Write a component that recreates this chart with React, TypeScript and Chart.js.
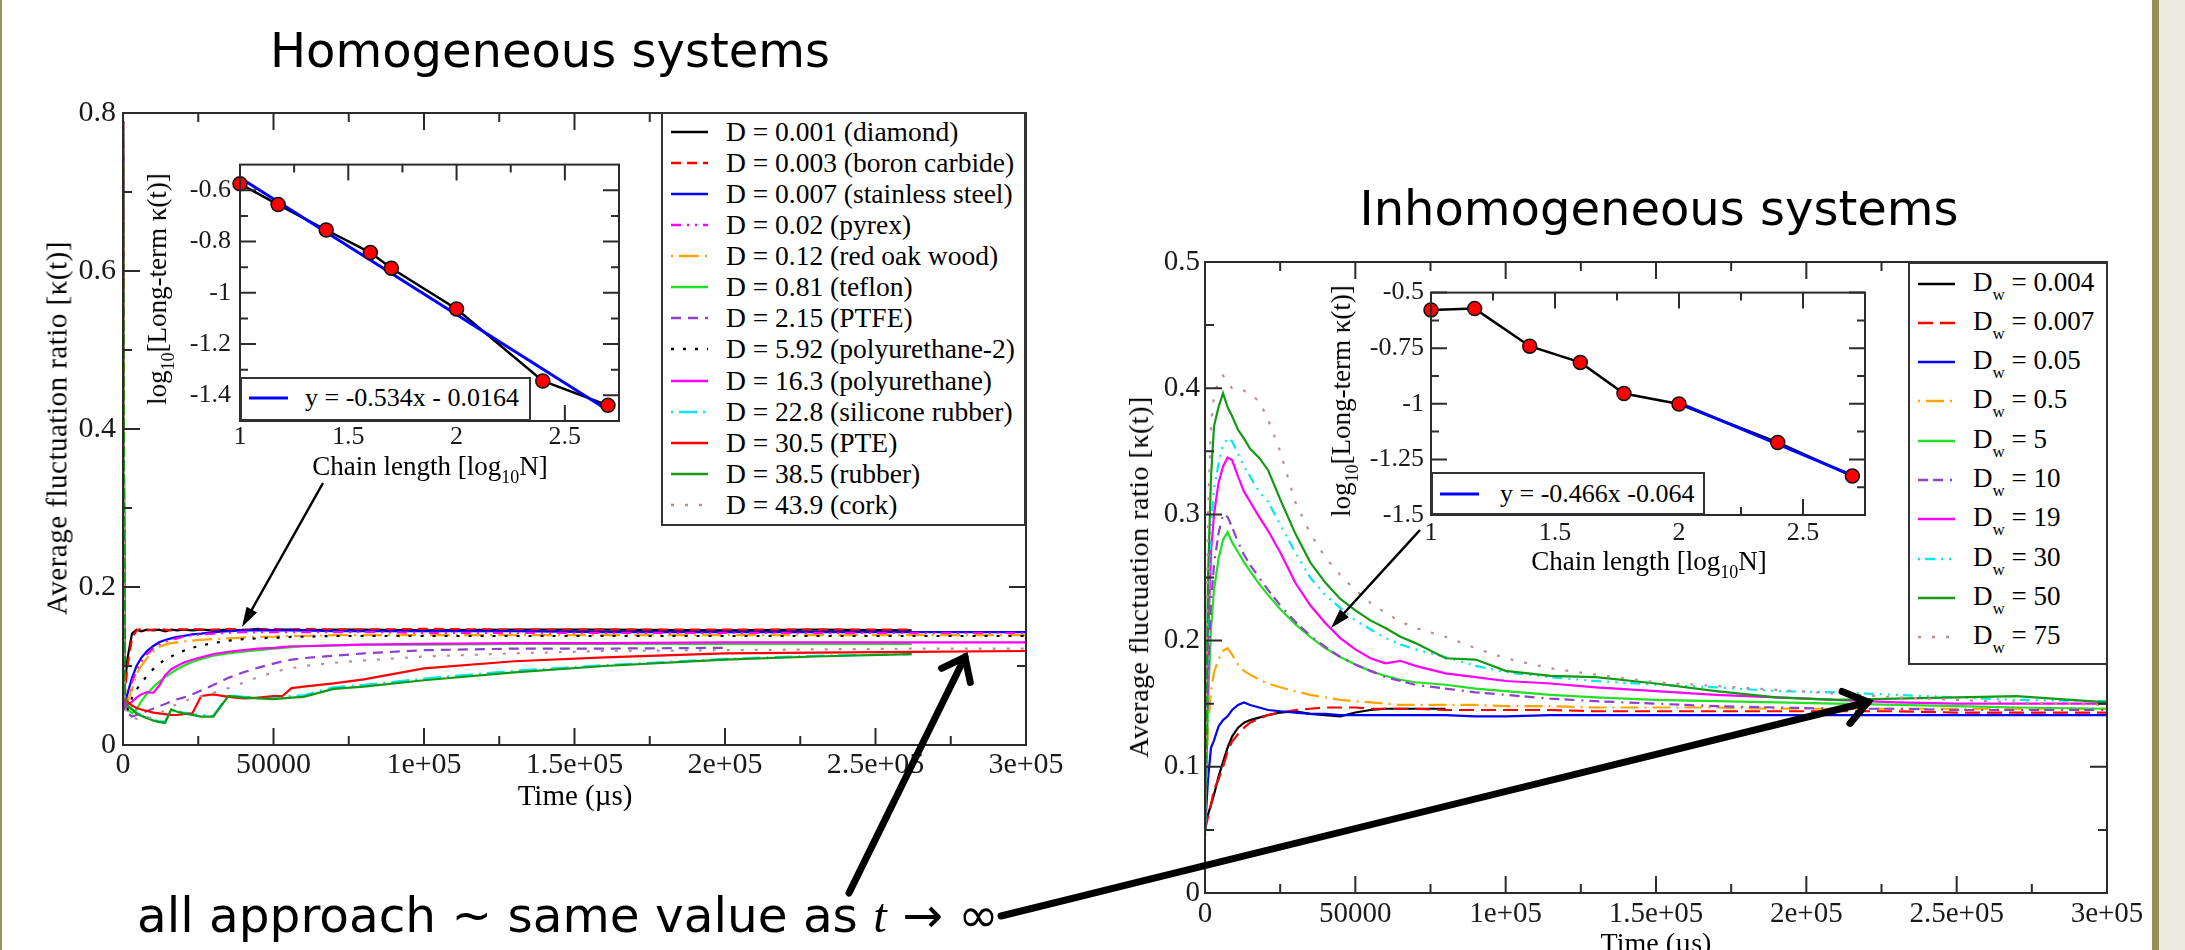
import React, { useEffect, useRef } from "react";
import { Chart, registerables } from "chart.js";

Chart.register(...registerables);

/* ================= DATA: homogeneous systems ================= */
const T_HOMO = [0, 500, 1500, 3000, 4500, 6000, 8000, 10000, 12000, 14000, 16000, 18000, 20000, 23000, 26000, 30000, 35000, 40000, 45000, 50000, 53000, 56000, 60000, 70000, 80000, 100000, 130000, 160000, 200000, 230000, 262000, 300000];
const H_DIAMOND = [0.79, 0.07, 0.11, 0.141, 0.146, 0.144, 0.146, 0.145, 0.146, 0.144, 0.146, 0.145, 0.146, 0.145, 0.146, 0.145, 0.146, 0.145, 0.147, 0.145, 0.146, 0.146, 0.145, 0.146, 0.146, 0.145, 0.146, 0.146, 0.145, 0.146, 0.145, null];
const H_BORON = [0.79, 0.06, 0.1, 0.135, 0.145, 0.147, 0.145, 0.146, 0.147, 0.146, 0.145, 0.147, 0.146, 0.147, 0.146, 0.146, 0.147, 0.146, 0.146, 0.147, 0.146, 0.146, 0.147, 0.146, 0.146, 0.147, 0.146, 0.146, 0.146, 0.146, 0.146, null];
const H_STEEL = [0.79, 0.05, 0.065, 0.085, 0.1, 0.11, 0.119, 0.125, 0.13, 0.133, 0.135, 0.137, 0.138, 0.14, 0.141, 0.143, 0.144, 0.145, 0.145, 0.145, 0.145, 0.145, 0.145, 0.144, 0.144, 0.144, 0.144, 0.143, 0.143, 0.143, 0.143, 0.143];
const H_PYREX = [0.79, 0.05, 0.06, 0.08, 0.095, 0.105, 0.115, 0.122, 0.127, 0.131, 0.133, 0.135, 0.137, 0.139, 0.14, 0.141, 0.142, 0.143, 0.143, 0.143, 0.143, 0.143, 0.143, 0.143, 0.143, 0.142, 0.142, 0.142, 0.142, 0.142, 0.142, 0.142];
const H_OAK = [0.79, 0.05, 0.055, 0.07, 0.09, 0.1, 0.11, 0.118, 0.124, 0.127, 0.129, 0.13, 0.131, 0.132, 0.133, 0.134, 0.135, 0.136, 0.137, 0.137, 0.138, 0.138, 0.138, 0.139, 0.139, 0.139, 0.139, 0.139, 0.139, 0.139, 0.139, 0.139];
const H_TEFLON = [0.79, 0.06, 0.045, 0.04, 0.045, 0.055, 0.065, 0.073, 0.08, 0.086, 0.091, 0.096, 0.1, 0.105, 0.109, 0.113, 0.116, 0.118, 0.12, 0.122, 0.123, 0.124, 0.125, 0.126, 0.127, 0.127, 0.128, 0.128, 0.128, 0.128, 0.128, null];
const H_PTFE = [0.79, 0.05, 0.04, 0.036, 0.038, 0.04, 0.043, 0.046, 0.049, 0.052, 0.055, 0.058, 0.06, 0.064, 0.069, 0.076, 0.085, 0.092, 0.098, 0.103, 0.106, 0.108, 0.11, 0.113, 0.116, 0.12, 0.122, 0.122, 0.123, null, null, null];
const H_PU2 = [0.79, 0.05, 0.045, 0.06, 0.07, 0.078, 0.088, 0.096, 0.103, 0.108, 0.112, 0.116, 0.119, 0.123, 0.126, 0.129, 0.132, 0.134, 0.135, 0.136, 0.136, 0.137, 0.137, 0.138, 0.138, 0.138, 0.138, 0.138, 0.138, 0.138, 0.138, 0.138];
const H_PU = [0.79, 0.05, 0.05, 0.055, 0.06, 0.064, 0.067, 0.066, 0.075, 0.088, 0.096, 0.1, 0.104, 0.108, 0.111, 0.115, 0.118, 0.12, 0.122, 0.123, 0.124, 0.125, 0.125, 0.126, 0.127, 0.128, 0.129, 0.129, 0.13, 0.13, 0.13, 0.13];
const H_SILICONE = [0.79, 0.06, 0.05, 0.045, 0.041, 0.038, 0.035, 0.032, 0.03, 0.03, 0.044, 0.043, 0.041, 0.039, 0.038, 0.037, 0.063, 0.061, 0.06, 0.06, 0.061, 0.062, 0.063, 0.073, 0.076, 0.084, 0.094, 0.101, 0.109, 0.113, 0.115, null];
const H_PTE = [0.79, 0.06, 0.055, 0.05, 0.047, 0.045, 0.043, 0.041, 0.04, 0.039, 0.038, 0.038, 0.039, 0.04, 0.062, 0.064, 0.061, 0.059, 0.06, 0.062, 0.062, 0.072, 0.074, 0.078, 0.083, 0.097, 0.106, 0.111, 0.116, 0.117, 0.118, 0.119];
const H_RUBBER = [0.8, 0.06, 0.05, 0.045, 0.04, 0.037, 0.034, 0.031, 0.029, 0.028, 0.045, 0.042, 0.04, 0.038, 0.036, 0.036, 0.062, 0.06, 0.059, 0.058, 0.059, 0.06, 0.061, 0.071, 0.074, 0.082, 0.092, 0.1, 0.108, 0.112, 0.115, null];
const H_CORK = [0.79, 0.05, 0.04, 0.035, 0.033, 0.032, 0.033, 0.036, 0.04, 0.044, 0.048, 0.052, 0.055, 0.059, 0.062, 0.066, 0.072, 0.079, 0.086, 0.092, 0.095, 0.097, 0.1, 0.104, 0.107, 0.112, 0.116, 0.119, 0.12, 0.121, 0.122, 0.122];
const HOMO_LABELS = ["D = 0.001 (diamond)", "D = 0.003 (boron carbide)", "D = 0.007 (stainless steel)", "D = 0.02 (pyrex)", "D = 0.12 (red oak wood)", "D = 0.81 (teflon)", "D = 2.15 (PTFE)", "D = 5.92 (polyurethane-2)", "D = 16.3 (polyurethane)", "D = 22.8 (silicone rubber)", "D = 30.5 (PTE)", "D = 38.5 (rubber)", "D = 43.9 (cork)"];

/* ================= DATA: inhomogeneous systems ================= */
const T_INHOMO = [0, 1000, 2000, 3000, 4500, 6000, 7500, 9000, 11000, 13000, 15000, 18000, 21000, 25000, 30000, 35000, 40000, 45000, 50000, 55000, 60000, 65000, 70000, 80000, 90000, 100000, 115000, 130000, 150000, 170000, 190000, 210000, 230000, 250000, 270000, 300000];
const IN_004 = [0.055, 0.062, 0.07, 0.078, 0.092, 0.104, 0.115, 0.124, 0.131, 0.135, 0.137, 0.139, 0.141, 0.143, 0.144, 0.142, 0.141, 0.14, 0.143, 0.145, 0.146, 0.146, 0.146, 0.146, null, null, null, null, null, null, null, null, null, null, null, null];
const IN_007 = [0.05, 0.06, 0.07, 0.082, 0.09, 0.1, 0.112, 0.12, 0.126, 0.131, 0.135, 0.138, 0.141, 0.143, 0.145, 0.146, 0.147, 0.147, 0.147, 0.146, 0.146, 0.146, 0.146, 0.145, 0.145, 0.145, 0.145, 0.144, 0.144, 0.144, 0.144, 0.144, 0.144, 0.143, 0.143, 0.143];
const IN_005 = [0.05, 0.09, 0.115, 0.121, 0.132, 0.137, 0.14, 0.145, 0.149, 0.151, 0.149, 0.147, 0.145, 0.144, 0.143, 0.142, 0.142, 0.141, 0.141, 0.141, 0.141, 0.141, 0.141, 0.141, 0.14, 0.14, 0.141, 0.141, 0.141, 0.141, 0.141, 0.141, 0.141, 0.141, 0.141, 0.141];
const IN_05 = [0.06, 0.13, 0.16, 0.175, 0.185, 0.192, 0.194, 0.189, 0.181, 0.176, 0.173, 0.169, 0.166, 0.163, 0.16, 0.157, 0.155, 0.153, 0.152, 0.151, 0.15, 0.149, 0.149, 0.149, 0.149, 0.148, 0.148, 0.147, 0.147, 0.147, 0.146, 0.146, 0.146, 0.146, 0.146, 0.146];
const IN_5 = [0.05, 0.15, 0.21, 0.24, 0.265, 0.28, 0.286, 0.278, 0.27, 0.262, 0.255, 0.245, 0.236, 0.225, 0.213, 0.203, 0.194, 0.187, 0.181, 0.176, 0.172, 0.169, 0.167, 0.165, 0.162, 0.16, 0.157, 0.155, 0.153, 0.152, 0.151, 0.15, 0.149, 0.148, 0.147, 0.146];
const IN_10 = [0.05, 0.17, 0.23, 0.26, 0.285, 0.3, 0.298, 0.29, 0.278, 0.268, 0.26, 0.25, 0.24, 0.228, 0.215, 0.204, 0.195, 0.187, 0.181, 0.176, 0.171, 0.168, 0.165, 0.162, 0.159, 0.157, 0.154, 0.152, 0.15, 0.148, 0.147, 0.146, 0.146, 0.145, 0.145, 0.145];
const IN_19 = [0.05, 0.2, 0.27, 0.3, 0.325, 0.338, 0.345, 0.343, 0.33, 0.318, 0.31, 0.298, 0.287, 0.27, 0.246, 0.228, 0.214, 0.202, 0.193, 0.186, 0.182, 0.184, 0.18, 0.174, 0.171, 0.168, 0.166, 0.163, 0.16, 0.157, 0.155, 0.153, 0.151, 0.15, 0.15, 0.15];
const IN_30 = [0.05, 0.22, 0.29, 0.32, 0.34, 0.355, 0.36, 0.358, 0.348, 0.338, 0.33, 0.318, 0.31, 0.292, 0.27, 0.25, 0.236, 0.226, 0.216, 0.209, 0.202, 0.197, 0.193, 0.187, 0.18, 0.175, 0.171, 0.168, 0.165, 0.163, 0.16, 0.159, 0.157, 0.155, 0.153, 0.152];
const IN_50 = [0.045, 0.25, 0.33, 0.37, 0.385, 0.396, 0.385, 0.378, 0.367, 0.36, 0.352, 0.345, 0.335, 0.312, 0.285, 0.262, 0.246, 0.233, 0.224, 0.216, 0.21, 0.203, 0.198, 0.186, 0.185, 0.176, 0.172, 0.171, 0.166, 0.16, 0.155, 0.153, 0.154, 0.155, 0.156, 0.151];
const IN_75 = [0.045, 0.3, 0.37, 0.395, 0.405, 0.41, 0.405, 0.4, 0.4, 0.398, 0.395, 0.39, 0.375, 0.35, 0.31, 0.285, 0.266, 0.252, 0.24, 0.23, 0.222, 0.215, 0.21, 0.203, 0.194, 0.186, 0.178, 0.173, 0.167, 0.164, 0.161, 0.158, 0.155, 0.153, 0.151, 0.149];
const INHOMO_DW = ["0.004", "0.007", "0.05", "0.5", "5", "10", "19", "30", "50", "75"];

/* ================= DATA: insets ================= */
const INSET_H_X = [1, 1.176, 1.398, 1.602, 1.699, 2, 2.398, 2.699];
const INSET_H_Y = [-0.575, -0.656, -0.755, -0.843, -0.904, -1.063, -1.344, -1.439];
const FIT_H_X = [1, 2.699];
const FIT_H_Y = [-0.551, -1.458];
const INSET_I_X = [1, 1.176, 1.398, 1.602, 1.778, 2, 2.398, 2.699];
const INSET_I_Y = [-0.578, -0.572, -0.741, -0.814, -0.954, -1.001, -1.174, -1.325];
const FIT_I_X = [2, 2.699];
const FIT_I_Y = [-0.996, -1.322];

/* ================= TICKS ================= */
const T_MAJOR = [0, 50000, 100000, 150000, 200000, 250000, 300000];
const T_MINOR = [25000, 75000, 125000, 175000, 225000, 275000];
const T_LABELS = ["0", "50000", "1e+05", "1.5e+05", "2e+05", "2.5e+05", "3e+05"];
const YH_MAJOR = [0, 0.2, 0.4, 0.6, 0.8];
const YH_MINOR = [0.1, 0.3, 0.5, 0.7];
const YH_LABELS = ["0", "0.2", "0.4", "0.6", "0.8"];
const YI_MAJOR = [0, 0.1, 0.2, 0.3, 0.4, 0.5];
const YI_MINOR = [0.05, 0.15, 0.25, 0.35, 0.45];
const YI_LABELS = ["0", "0.1", "0.2", "0.3", "0.4", "0.5"];
const N_MAJOR = [1, 1.5, 2, 2.5];
const N_MINOR = [1.25, 1.75, 2.25];
const N_LABELS = ["1", "1.5", "2", "2.5"];
const KH_MAJOR = [-1.4, -1.2, -1, -0.8, -0.6];
const KH_MINOR = [-1.3, -1.1, -0.9, -0.7];
const KH_LABELS = ["-1.4", "-1.2", "-1", "-0.8", "-0.6"];
const KI_MAJOR = [-1.5, -1.25, -1, -0.75, -0.5];
const KI_MINOR = [-1.375, -1.125, -0.875, -0.625];
const KI_LABELS = ["-1.5", "-1.25", "-1", "-0.75", "-0.5"];

/* ================= STYLES ================= */
const SERIF = "'Liberation Serif', 'Times New Roman', serif";
const SANS = "'DejaVu Sans', Verdana, sans-serif";
const C_BLACK = "#000000", C_RED = "#ff0000", C_BLUE = "#0000ff", C_MAG = "#ff00ff", C_ORANGE = "#ffa500";
const C_GREEN = "#22e022", C_VIOLET = "#9040d0", C_CYAN = "#00e8f0", C_DKGREEN = "#139a13", C_BROWN = "#bc8f8f";
const HOMO_COLORS = [C_BLACK, C_RED, C_BLUE, C_MAG, C_ORANGE, C_GREEN, C_VIOLET, C_BLACK, C_MAG, C_CYAN, C_RED, C_DKGREEN, C_BROWN];
const HOMO_DASHES = [[], [10, 6], [], [10, 6, 2, 6, 2, 6], [2, 6, 20, 6], [], [10, 7], [3, 9], [], [2, 6, 18, 6], [], [], [3, 11]];
const INHOMO_COLORS = [C_BLACK, C_RED, C_BLUE, C_ORANGE, C_GREEN, C_VIOLET, C_MAG, C_CYAN, C_DKGREEN, C_BROWN];
const INHOMO_DASHES = [[], [15, 7], [], [2, 6, 18, 6], [], [10, 5, 10, 7, 2, 6], [], [2, 5, 10, 6, 2, 6, 2, 6], [], [3, 11]];

function lineDatasets(t: number[], series: (number | null)[][], colors: string[], dashes: number[][], width: number) {
  const n = series.length;
  return series.map((vals, i) => ({
    data: vals
      .map((v, k) => (v == null ? null : { x: t[k], y: v }))
      .filter((p) => p !== null),
    borderColor: colors[i],
    borderDash: dashes[i],
    borderWidth: width,
    pointRadius: 0,
    pointHoverRadius: 0,
    fill: false,
    tension: 0,
    order: n - i,
  }));
}

function insetDatasets(px: number[], py: number[], fx: number[], fy: number[]) {
  return [
    { data: px.map((x, i) => ({ x, y: py[i] })), borderColor: "#000", borderWidth: 2.5, pointRadius: 0, tension: 0, fill: false, order: 3 },
    { data: fx.map((x, i) => ({ x, y: fy[i] })), borderColor: "#0000ff", borderWidth: 3, pointRadius: 0, tension: 0, fill: false, order: 2 },
    {
      data: px.map((x, i) => ({ x, y: py[i] })), showLine: false, pointRadius: 7, pointBackgroundColor: "#ff0000",
      pointBorderColor: "#111", pointBorderWidth: 1.5, order: 1, clip: false,
    },
  ];
}

function framePlugin(o: any) {
  return {
    id: "frameTicks",
    beforeDatasetsDraw(chart: any) {
      const a = chart.chartArea;
      const ctx = chart.ctx;
      ctx.save();
      ctx.fillStyle = "#ffffff";
      ctx.fillRect(a.left, a.top, a.right - a.left, a.bottom - a.top);
      ctx.restore();
    },
    afterDatasetsDraw(chart: any) {
      const { ctx, chartArea: a, scales } = chart;
      const xs = scales.x, ys = scales.y;
      ctx.save();
      ctx.strokeStyle = "#2b2b2b";
      ctx.lineWidth = 2;
      ctx.beginPath();
      const tx = (vals: number[], len: number) =>
        vals.forEach((v) => {
          const p = xs.getPixelForValue(v);
          ctx.moveTo(p, a.bottom); ctx.lineTo(p, a.bottom - len);
          ctx.moveTo(p, a.top); ctx.lineTo(p, a.top + len);
        });
      const ty = (vals: number[], len: number) =>
        vals.forEach((v) => {
          const p = ys.getPixelForValue(v);
          ctx.moveTo(a.left, p); ctx.lineTo(a.left + len, p);
          ctx.moveTo(a.right, p); ctx.lineTo(a.right - len, p);
        });
      tx(o.xMajor, o.major); tx(o.xMinor, o.minor);
      ty(o.yMajor, o.major); ty(o.yMinor, o.minor);
      ctx.stroke();
      ctx.strokeRect(a.left, a.top, a.right - a.left, a.bottom - a.top);
      ctx.restore();
    },
  };
}

function axis(min: number, max: number, ticks: number[], labels: string[], size: number, pad: number, fit: (s: any) => void) {
  return {
    type: "linear",
    min,
    max,
    grid: { display: false, drawTicks: false },
    border: { display: false },
    afterBuildTicks: (s: any) => { s.ticks = ticks.map((v) => ({ value: v })); },
    afterFit: fit,
    ticks: {
      autoSkip: false, maxRotation: 0, minRotation: 0, padding: pad, color: "#1a1a1a",
      font: { family: SERIF, size },
      callback: (_v: any, i: number) => labels[i],
    },
  };
}

function buildChart(canvas: HTMLCanvasElement, datasets: any[], o: any) {
  return new Chart(canvas as any, {
    type: "line",
    data: { datasets },
    options: {
      responsive: false,
      maintainAspectRatio: false,
      animation: false,
      devicePixelRatio: 1,
      events: [],
      layout: { padding: o.padding },
      plugins: { legend: { display: false }, tooltip: { enabled: false }, title: { display: false } },
      scales: {
        x: axis(o.xMin, o.xMax, o.xMajor, o.xLabels, o.font, o.xPad, (s: any) => { s.height = o.xH; }),
        y: axis(o.yMin, o.yMax, o.yMajor, o.yLabels, o.font, o.yPad, (s: any) => { s.width = o.yW; }),
      },
    } as any,
    plugins: [framePlugin(o)],
  } as any);
}

/* ================= small UI helpers ================= */
function Txt({ x, y, size, family = SERIF, align = "center", rotate = false, style = {}, children }: any) {
  const tx = align === "center" ? "-50%" : align === "left" ? "0" : "-100%";
  return (
    <div
      style={{
        position: "absolute", left: x, top: y, fontSize: size, fontFamily: family, lineHeight: `${size}px`,
        whiteSpace: "nowrap", color: "#000", transform: `translate(${tx}, -50%)${rotate ? " rotate(-90deg)" : ""}`,
        ...style,
      }}
    >
      {children}
    </div>
  );
}

function Sample({ color, dash, w = 37, lw = 2.5 }: any) {
  return (
    <svg width={w} height={30} style={{ display: "block" }}>
      <line x1={0} y1={15} x2={w} y2={15} stroke={color} strokeWidth={lw} strokeDasharray={dash.length ? dash.join(" ") : undefined} />
    </svg>
  );
}

const Sub = ({ children, size = 17, drop = 9 }: any) => (
  <span style={{ fontSize: size, position: "relative", top: drop }}>{children}</span>
);

function arrowHeadFilled(x1: number, y1: number, x2: number, y2: number, len: number, half: number) {
  const L = Math.hypot(x2 - x1, y2 - y1);
  const ux = (x2 - x1) / L, uy = (y2 - y1) / L;
  const bx = x2 - ux * len, by = y2 - uy * len;
  return `${x2},${y2} ${bx - uy * half},${by + ux * half} ${bx + uy * half},${by - ux * half}`;
}
function arrowHeadV(x1: number, y1: number, x2: number, y2: number, len: number, deg: number) {
  const L = Math.hypot(x2 - x1, y2 - y1);
  const bx = -(x2 - x1) / L, by = -(y2 - y1) / L;
  const r = (deg * Math.PI) / 180;
  const a1 = [bx * Math.cos(r) - by * Math.sin(r), bx * Math.sin(r) + by * Math.cos(r)];
  const a2 = [bx * Math.cos(-r) - by * Math.sin(-r), bx * Math.sin(-r) + by * Math.cos(-r)];
  return `${x2 + a1[0] * len},${y2 + a1[1] * len} ${x2},${y2} ${x2 + a2[0] * len},${y2 + a2[1] * len}`;
}

export default function App() {
  const cHomo = useRef<HTMLCanvasElement>(null);
  const cInhomo = useRef<HTMLCanvasElement>(null);
  const cInsetH = useRef<HTMLCanvasElement>(null);
  const cInsetI = useRef<HTMLCanvasElement>(null);

  useEffect(() => {
    const charts: Chart[] = [];
    const homoSeries = [H_DIAMOND, H_BORON, H_STEEL, H_PYREX, H_OAK, H_TEFLON, H_PTFE, H_PU2, H_PU, H_SILICONE, H_PTE, H_RUBBER, H_CORK];
    const inhomoSeries = [IN_004, IN_007, IN_005, IN_05, IN_5, IN_10, IN_19, IN_30, IN_50, IN_75];

    charts.push(
      buildChart(cHomo.current!, lineDatasets(T_HOMO, homoSeries, HOMO_COLORS, HOMO_DASHES, 2.2), {
        padding: { left: 0, right: 74, top: 113, bottom: 0 }, xH: 85, yW: 123,
        xMin: 0, xMax: 300000, yMin: 0, yMax: 0.8, xMajor: T_MAJOR, xMinor: T_MINOR, xLabels: T_LABELS,
        yMajor: YH_MAJOR, yMinor: YH_MINOR, yLabels: YH_LABELS, font: 30, xPad: 2, yPad: 7, major: 17, minor: 9,
      })
    );
    charts.push(
      buildChart(cInhomo.current!, lineDatasets(T_INHOMO, inhomoSeries, INHOMO_COLORS, INHOMO_DASHES, 2.2), {
        padding: { left: 0, right: 45, top: 32, bottom: 0 }, xH: 77, yW: 105,
        xMin: 0, xMax: 300000, yMin: 0, yMax: 0.5, xMajor: T_MAJOR, xMinor: T_MINOR, xLabels: T_LABELS,
        yMajor: YI_MAJOR, yMinor: YI_MINOR, yLabels: YI_LABELS, font: 29, xPad: 4, yPad: 5, major: 17, minor: 9,
      })
    );
    charts.push(
      buildChart(cInsetH.current!, insetDatasets(INSET_H_X, INSET_H_Y, FIT_H_X, FIT_H_Y), {
        padding: { left: 0, right: 21, top: 18, bottom: 0 }, xH: 39, yW: 110,
        xMin: 1, xMax: 2.75, yMin: -1.5, yMax: -0.5, xMajor: N_MAJOR, xMinor: N_MINOR, xLabels: N_LABELS,
        yMajor: KH_MAJOR, yMinor: KH_MINOR, yLabels: KH_LABELS, font: 26, xPad: 1, yPad: 9, major: 16, minor: 8,
      })
    );
    charts.push(
      buildChart(cInsetI.current!, insetDatasets(INSET_I_X, INSET_I_Y, FIT_I_X, FIT_I_Y), {
        padding: { left: 0, right: 25, top: 18, bottom: 0 }, xH: 45, yW: 71,
        xMin: 1, xMax: 2.75, yMin: -1.5, yMax: -0.5, xMajor: N_MAJOR, xMinor: N_MINOR, xLabels: N_LABELS,
        yMajor: KI_MAJOR, yMinor: KI_MINOR, yLabels: KI_LABELS, font: 26, xPad: 3, yPad: 7, major: 16, minor: 8,
      })
    );
    return () => charts.forEach((c) => c.destroy());
  }, []);

  const legBox = (l: number, t: number, w: number, h: number): React.CSSProperties => ({
    position: "absolute", left: l, top: t, width: w, height: h, boxSizing: "border-box",
    border: "2px solid #333", background: "#fff",
  });

  return (
    <div style={{ position: "fixed", left: 0, top: 0, width: 2185, height: 950, overflow: "hidden", background: "#fff" }}>
      {/* slide frame */}
      <div style={{ position: "absolute", left: 0, top: 0, width: 2, height: 950, background: "#9b9158" }} />
      <div style={{ position: "absolute", left: 2152, top: 0, width: 7, height: 950, background: "#988e56" }} />
      <div style={{ position: "absolute", left: 2159, top: 0, width: 26, height: 950, background: "#ecebe1" }} />

      {/* main charts */}
      <canvas ref={cHomo} width={1100} height={830} style={{ position: "absolute", left: 0, top: 0 }} />
      <canvas ref={cInhomo} width={1052} height={740} style={{ position: "absolute", left: 1100, top: 230 }} />

      {/* headings */}
      <Txt x={550} y={50} size={48} family={SANS}>Homogeneous systems</Txt>
      <Txt x={1659} y={208} size={48} family={SANS}>Inhomogeneous systems</Txt>

      {/* main axis titles */}
      <Txt x={57} y={428} size={29} rotate style={{ letterSpacing: 0.5 }}>Average fluctuation ratio [κ(t)]</Txt>
      <Txt x={575} y={795} size={29}>Time (µs)</Txt>
      <Txt x={1139} y={577} size={28} rotate style={{ letterSpacing: 0.5 }}>Average fluctuation ratio [κ(t)]</Txt>
      <Txt x={1656} y={943} size={28}>Time (µs)</Txt>

      {/* homogeneous legend */}
      <div style={legBox(661, 112, 365, 414)}>
        {HOMO_LABELS.map((lab, i) => (
          <div key={i} style={{ position: "absolute", left: 0, top: 131.7 + 31.1 * i - 112 - 2 - 15, height: 30, display: "flex", alignItems: "center" }}>
            <div style={{ marginLeft: 8 }}><Sample color={HOMO_COLORS[i]} dash={HOMO_DASHES[i]} /></div>
            <div style={{ marginLeft: 18, fontFamily: SERIF, fontSize: 27.5, lineHeight: "30px", whiteSpace: "nowrap" }}>{lab}</div>
          </div>
        ))}
      </div>

      {/* inhomogeneous legend */}
      <div style={legBox(1908, 262, 200, 403)}>
        {INHOMO_DW.map((v, i) => (
          <div key={i} style={{ position: "absolute", left: 0, top: 283.5 + 39.3 * i - 262 - 2 - 15, height: 30, display: "flex", alignItems: "center" }}>
            <div style={{ marginLeft: 8 }}><Sample color={INHOMO_COLORS[i]} dash={INHOMO_DASHES[i]} /></div>
            <div style={{ marginLeft: 18, fontFamily: SERIF, fontSize: 27, lineHeight: "30px", whiteSpace: "nowrap" }}>
              D<Sub>w</Sub> = {v}
            </div>
          </div>
        ))}
      </div>

      {/* insets */}
      <canvas ref={cInsetH} width={510} height={320} style={{ position: "absolute", left: 130, top: 140 }} />
      <canvas ref={cInsetI} width={530} height={290} style={{ position: "absolute", left: 1360, top: 270 }} />

      <Txt x={159} y={289} size={27} rotate>log<Sub size={18} drop={8}>10</Sub>[Long-term κ(t)]</Txt>
      <Txt x={430} y={468} size={27}>Chain length [log<Sub size={18} drop={8}>10</Sub>N]</Txt>
      <Txt x={1343} y={401} size={27} rotate>log<Sub size={18} drop={8}>10</Sub>[Long-term κ(t)]</Txt>
      <Txt x={1649} y={563} size={27}>Chain length [log<Sub size={18} drop={8}>10</Sub>N]</Txt>

      <div style={legBox(240, 377, 291, 44)}>
        <div style={{ position: "absolute", left: 7, top: 4 }}><Sample color="#0000ff" dash={[]} w={39} lw={3} /></div>
        <div style={{ position: "absolute", left: 63, top: 4, fontFamily: SERIF, fontSize: 26, lineHeight: "30px", whiteSpace: "nowrap" }}>y = -0.534x - 0.0164</div>
      </div>
      <div style={legBox(1431, 472, 274, 43)}>
        <div style={{ position: "absolute", left: 7, top: 5 }}><Sample color="#0000ff" dash={[]} w={39} lw={3} /></div>
        <div style={{ position: "absolute", left: 67, top: 5, fontFamily: SERIF, fontSize: 26, lineHeight: "30px", whiteSpace: "nowrap" }}>y = -0.466x -0.064</div>
      </div>

      {/* annotation */}
      <Txt x={137} y={916} size={48.5} family={SANS} align="left">
        all approach ~ same value as <span style={{ fontStyle: "italic", fontFamily: SERIF }}>t</span> → ∞
      </Txt>

      {/* arrows */}
      <svg width={2185} height={950} style={{ position: "absolute", left: 0, top: 0, pointerEvents: "none" }}>
        <line x1={323} y1={483} x2={246} y2={620} stroke="#000" strokeWidth={2.5} />
        <polygon points={arrowHeadFilled(323, 483, 242, 627, 20, 6)} fill="#000" />
        <line x1={1420} y1={530} x2={1336} y2={622} stroke="#000" strokeWidth={2.5} />
        <polygon points={arrowHeadFilled(1420, 530, 1331, 628, 20, 6)} fill="#000" />
        <line x1={849} y1={893} x2={965} y2={657} stroke="#000" strokeWidth={7} strokeLinecap="round" />
        <polyline points={arrowHeadV(849, 893, 965, 657, 26, 38)} fill="none" stroke="#000" strokeWidth={7} strokeLinecap="round" strokeLinejoin="miter" />
        <line x1={1001} y1={916} x2={1868} y2={702} stroke="#000" strokeWidth={7} strokeLinecap="round" />
        <polyline points={arrowHeadV(1001, 916, 1868, 702, 28, 36)} fill="none" stroke="#000" strokeWidth={7} strokeLinecap="round" strokeLinejoin="miter" />
      </svg>
    </div>
  );
}
